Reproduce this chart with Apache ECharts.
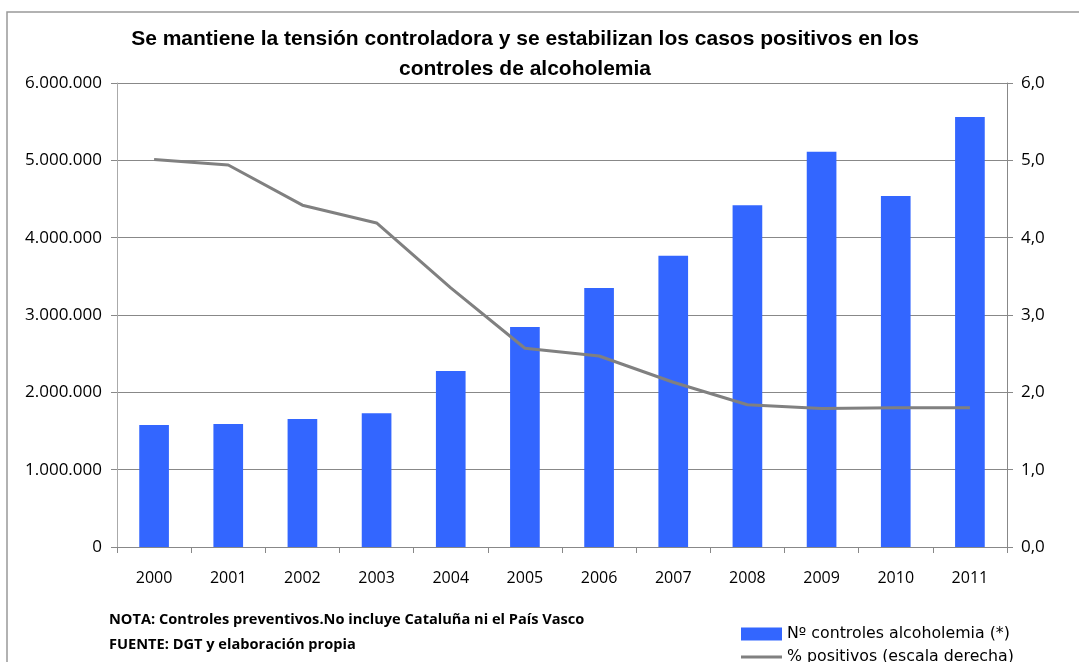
<!DOCTYPE html>
<html><head><meta charset="utf-8">
<script src="https://cdn.jsdelivr.net/npm/echarts@6/dist/echarts.min.js"></script>
<style>html,body{margin:0;padding:0;background:#fff}#c{width:1079px;height:662px}</style>
</head><body><div id="c"></div>
<script>
const categories = ['2000','2001','2002','2003','2004','2005','2006','2007','2008','2009','2010','2011'];
const controles = [1578000,1590000,1656000,1730000,2277000,2846000,3350000,3765000,4420000,5110000,4540000,5560000];
const positivos = [5.01,4.94,4.42,4.19,3.35,2.57,2.47,2.13,1.84,1.79,1.80,1.80];
const titleText = 'Se mantiene la tensión controladora y se estabilizan los casos positivos en los\ncontroles de alcoholemia';
const notaText = 'NOTA: Controles preventivos.No incluye Cataluña ni el País Vasco';
const fuenteText = 'FUENTE: DGT y elaboración propia';
const seriesNames = ['Nº controles alcoholemia (*)','% positivos (escala derecha)'];

const font = '"Liberation Sans", Arial, sans-serif';
const font2 = '"Open Sans", "Liberation Sans", sans-serif';
const legFont = '"DejaVu Sans", sans-serif';
function fmtThousands(v){ return String(Math.round(v)).replace(/\B(?=(\d{3})+(?!\d))/g,'.'); }

const chart = echarts.init(document.getElementById('c'), null, {renderer:'canvas'});
chart.setOption({
  animation:false,
  backgroundColor:'#fff',
  title:{text:titleText,left:520,textAlign:'center',top:19,
    textStyle:{fontFamily:font,fontWeight:'bold',fontSize:21,color:'#000',lineHeight:30}},
  grid:{left:117,right:72,top:83,bottom:115,containLabel:false},
  legend:[
    {left:741,top:626,padding:0,itemWidth:41,itemHeight:13,
      textStyle:{fontFamily:legFont,fontSize:15.8,color:'#000'},
      data:[{name:seriesNames[0],icon:'rect'}]},
    {left:741,top:649,padding:0,itemWidth:41,itemHeight:3,
      textStyle:{fontFamily:legFont,fontSize:15.8,color:'#000'},
      data:[{name:seriesNames[1],icon:'rect',itemStyle:{color:'#808080'}}]}
  ],
  xAxis:{type:'category',data:categories,
    axisLine:{lineStyle:{color:'#888',width:1}},
    axisTick:{show:true,length:6,lineStyle:{color:'#888'}},
    axisLabel:{fontFamily:font2,fontSize:16,color:'#000',margin:23}},
  yAxis:[
    {type:'value',min:0,max:6000000,interval:1000000,
      axisLine:{show:true,lineStyle:{color:'#aaa'}},
      axisTick:{show:true,length:6,lineStyle:{color:'#888'}},
      splitLine:{lineStyle:{color:'#888',width:1}},
      axisLabel:{fontFamily:font2,fontSize:17,color:'#000',margin:15,formatter:fmtThousands}},
    {type:'value',min:0,max:6,interval:1,position:'right',
      axisLine:{show:true,lineStyle:{color:'#888'}},
      axisTick:{show:true,length:6,lineStyle:{color:'#888'}},
      splitLine:{show:false},
      axisLabel:{fontFamily:font2,fontSize:17,color:'#000',margin:14,
        formatter:v=>v.toFixed(1).replace('.',',')}}
  ],
  series:[
    {name:seriesNames[0],type:'bar',data:controles,barWidth:'40%',itemStyle:{color:'#3366FF'}},
    {name:seriesNames[1],type:'line',yAxisIndex:1,data:positivos,symbol:'none',
      lineStyle:{color:'#808080',width:3},itemStyle:{color:'#808080'}}
  ],
  graphic:[
    {type:'polyline',shape:{points:[[7,700],[7,12],[1100,12]]},style:{stroke:'#999',lineWidth:1.5,fill:null},silent:true},
    {type:'text',left:109,top:612,style:{text:notaText,fontFamily:font2,fontWeight:'bold',fontSize:14.6,fill:'#000'}},
    {type:'text',left:109,top:637,style:{text:fuenteText,fontFamily:font2,fontWeight:'bold',fontSize:14.6,fill:'#000'}}
  ]
});
</script></body></html>
